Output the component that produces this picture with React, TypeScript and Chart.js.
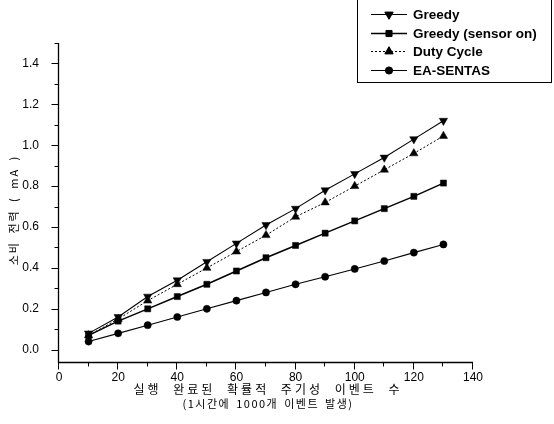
import React, { useEffect, useRef } from "react";
import { Chart, registerables } from "chart.js";
import { drawPoint } from "chart.js/helpers";

Chart.register(...registerables);

// Number of periodic events completed (per hour)
const eventCounts = [10, 20, 30, 40, 50, 60, 70, 80, 90, 100, 110, 120, 130];

// Power consumption (mA)
const greedy = [0.08, 0.16, 0.26, 0.34, 0.43, 0.52, 0.61, 0.69, 0.78, 0.86, 0.94, 1.03, 1.12];
const greedySensorOn = [0.07, 0.14, 0.2, 0.26, 0.32, 0.385, 0.45, 0.51, 0.57, 0.63, 0.69, 0.75, 0.815];
const dutyCycle = [0.07, 0.15, 0.24, 0.32, 0.4, 0.48, 0.56, 0.65, 0.72, 0.8, 0.88, 0.96, 1.045];
const eaSentas = [0.04, 0.08, 0.12, 0.16, 0.2, 0.24, 0.28, 0.32, 0.357, 0.395, 0.434, 0.475, 0.515];

const seriesLabels = ["Greedy", "Greedy (sensor on)", "Duty Cycle", "EA-SENTAS"];

const xTicks = [0, 20, 40, 60, 80, 100, 120, 140];
const xMinorTicks = [10, 30, 50, 70, 90, 110, 130];
const yTicks = [0, 0.2, 0.4, 0.6, 0.8, 1.0, 1.2, 1.4];
const yMinorTicks = [0.1, 0.3, 0.5, 0.7, 0.9, 1.1, 1.3, 1.5];

const yTitle = "소비 전력 ( mA )";
const xTitle = "실행 완료된 확률적 주기성 이벤트 수";
const xSubtitle = "(1시간에 1000개 이벤트 발생)";

const W = 554;
const H = 424;
const KR_FONT = "'Noto Sans CJK KR', sans-serif";

type SeriesStyle = {
  pointStyle: string;
  rotation: number;
  radius: number;
  lineWidth: number;
  dash: number[];
};

const styles: SeriesStyle[] = [
  { pointStyle: "triangle", rotation: 180, radius: 4.8, lineWidth: 1.1, dash: [] },
  { pointStyle: "rect", rotation: 0, radius: 4.3, lineWidth: 1.5, dash: [] },
  { pointStyle: "triangle", rotation: 0, radius: 4.8, lineWidth: 1, dash: [2, 2] },
  { pointStyle: "circle", rotation: 0, radius: 3.6, lineWidth: 1.1, dash: [] },
];

const seriesValues = [greedy, greedySensorOn, dutyCycle, eaSentas];

const axesPlugin = {
  id: "originAxes",
  beforeDraw(chart: any) {
    const ctx = chart.ctx as CanvasRenderingContext2D;
    ctx.save();
    ctx.fillStyle = "#fff";
    ctx.fillRect(0, 0, chart.width, chart.height);
    ctx.restore();
  },
  afterDraw(chart: any) {
    const ctx = chart.ctx as CanvasRenderingContext2D;
    const xs = chart.scales.x;
    const ys = chart.scales.y;
    const { right, top, left, bottom } = chart.chartArea;
    const L = Math.round(left) - 0.5;
    const B = Math.round(bottom) + 0.5;

    ctx.save();
    ctx.strokeStyle = "#000";
    ctx.lineWidth = 1.3;
    ctx.beginPath();
    ctx.moveTo(L, top);
    ctx.lineTo(L, B);
    ctx.lineTo(right, B);
    ctx.stroke();

    ctx.lineWidth = 1;
    ctx.beginPath();
    for (const v of yTicks) {
      const y = Math.round(ys.getPixelForValue(v)) + 0.5;
      ctx.moveTo(L - 7, y);
      ctx.lineTo(L, y);
    }
    for (const v of yMinorTicks) {
      const y = Math.round(ys.getPixelForValue(v)) + 0.5;
      ctx.moveTo(L - 4, y);
      ctx.lineTo(L, y);
    }
    for (const v of xTicks) {
      const x = Math.round(xs.getPixelForValue(v)) - 0.5;
      ctx.moveTo(x, B);
      ctx.lineTo(x, B + 7);
    }
    for (const v of xMinorTicks) {
      const x = Math.round(xs.getPixelForValue(v)) - 0.5;
      ctx.moveTo(x, B);
      ctx.lineTo(x, B + 4);
    }
    ctx.stroke();

    // axis titles
    ctx.fillStyle = "#000";
    ctx.textAlign = "center";
    ctx.textBaseline = "middle";
    (ctx as any).letterSpacing = "3px";
    (ctx as any).wordSpacing = "6px";
    ctx.font = `12px ${KR_FONT}`;
    ctx.fillText(xTitle, 268, 389);
    (ctx as any).wordSpacing = "2px";
    (ctx as any).letterSpacing = "1.5px";
    ctx.font = `11px ${KR_FONT}`;
    ctx.fillText(xSubtitle, 268, 404);

    ctx.save();
    ctx.translate(14, 210);
    ctx.rotate(-Math.PI / 2);
    (ctx as any).letterSpacing = "2px";
    (ctx as any).wordSpacing = "3px";
    ctx.font = `11px ${KR_FONT}`;
    ctx.fillText(yTitle, 0, 0);
    ctx.restore();
    (ctx as any).letterSpacing = "0px";
    (ctx as any).wordSpacing = "0px";

    // legend box
    ctx.lineWidth = 1;
    ctx.strokeRect(357.5, -0.5, 194, 83);
    const rows = [14, 33, 51, 70];
    ctx.font = "bold 13.5px 'Liberation Sans', Arial, sans-serif";
    ctx.textAlign = "left";
    ctx.textBaseline = "middle";
    rows.forEach((ry, i) => {
      const s = styles[i];
      ctx.save();
      ctx.lineWidth = s.lineWidth;
      ctx.setLineDash(s.dash);
      ctx.beginPath();
      ctx.moveTo(371, ry + 0.5);
      ctx.lineTo(407, ry + 0.5);
      ctx.stroke();
      ctx.restore();
      ctx.fillStyle = "#000";
      ctx.strokeStyle = "#000";
      drawPoint(ctx, { pointStyle: s.pointStyle as any, rotation: s.rotation, radius: s.radius, borderWidth: 0.5 }, 389, ry + 0.5);
      ctx.fillText(seriesLabels[i], 413, ry + 1);
    });
    ctx.restore();
  },
};

export default function App() {
  const canvasRef = useRef<HTMLCanvasElement | null>(null);

  useEffect(() => {
    const canvas = canvasRef.current;
    if (!canvas) return;

    const datasets = seriesValues.map((vals, i) => {
      const s = styles[i];
      return {
        label: seriesLabels[i],
        data: eventCounts.map((x, k) => ({ x, y: vals[k] })),
        borderColor: "#000",
        backgroundColor: "#000",
        borderWidth: s.lineWidth,
        borderDash: s.dash,
        pointStyle: s.pointStyle,
        rotation: s.rotation,
        pointRadius: s.radius,
        pointBorderWidth: 0.5,
        pointBorderColor: "#000",
        pointBackgroundColor: "#000",
        tension: 0,
        fill: false,
      };
    });

    const chart = new Chart(canvas, {
      type: "line",
      data: { datasets: datasets as any },
      options: {
        responsive: false,
        animation: false,
        devicePixelRatio: 1,
        layout: { padding: { left: 0, top: 43, right: 81, bottom: 0 } },
        plugins: { legend: { display: false }, tooltip: { enabled: false }, title: { display: false } },
        scales: {
          x: {
            type: "linear",
            min: 0,
            max: 140,
            grid: { display: false },
            border: { display: false },
            afterBuildTicks: (scale: any) => {
              scale.ticks = xTicks.map((value) => ({ value }));
            },
            afterFit: (scale: any) => {
              scale.height = 62;
            },
            ticks: {
              autoSkip: false,
              maxRotation: 0,
              padding: 0,
              color: "#000",
              font: { family: "'Liberation Sans', Arial, sans-serif", size: 12 },
              callback: (v: any) => String(v),
            },
          },
          y: {
            type: "linear",
            min: -0.06,
            max: 1.5,
            grid: { display: false },
            border: { display: false },
            afterBuildTicks: (scale: any) => {
              scale.ticks = yTicks.map((value) => ({ value }));
            },
            afterFit: (scale: any) => {
              scale.width = 59;
            },
            ticks: {
              autoSkip: false,
              padding: 12,
              color: "#000",
              font: { family: "'Liberation Sans', Arial, sans-serif", size: 12 },
              callback: (v: any) => Number(v).toFixed(1),
            },
          },
        },
      },
      plugins: [axesPlugin],
    });

    return () => chart.destroy();
  }, []);

  return (
    <div style={{ position: "fixed", left: 0, top: 0, width: W, height: H, background: "#fff" }}>
      <canvas ref={canvasRef} width={W} height={H} style={{ width: W, height: H, display: "block" }} />
    </div>
  );
}
